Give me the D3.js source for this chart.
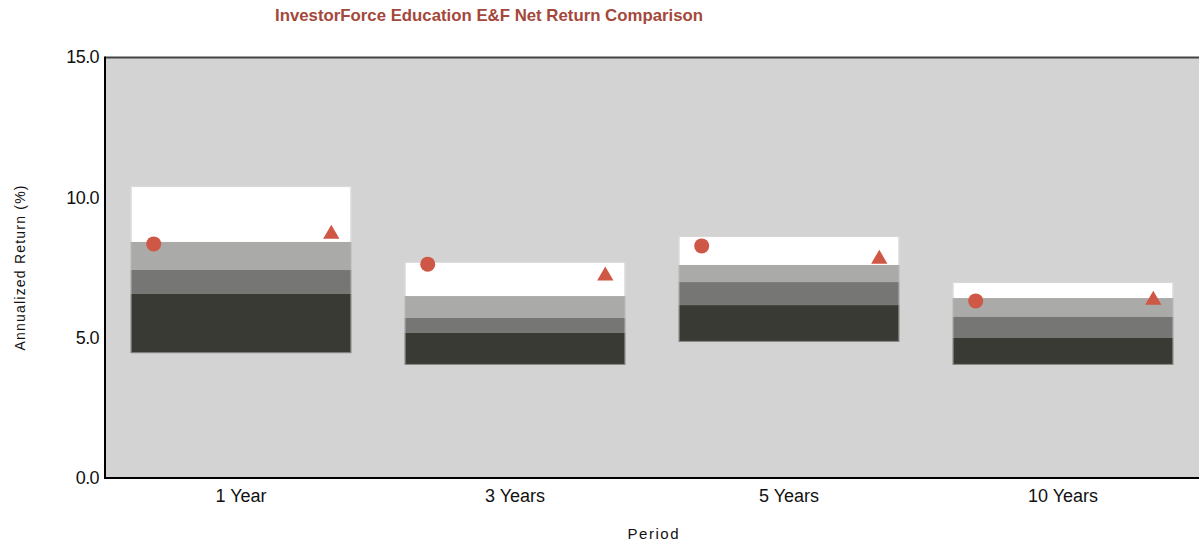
<!DOCTYPE html>
<html>
<head>
<meta charset="utf-8">
<script src="https://cdn.jsdelivr.net/npm/d3@7"></script>
<style>
  body { margin: 0; background: #fff; }
  svg { display: block; font-family: "Liberation Sans", Arial, sans-serif; }
</style>
</head>
<body>
<div id="chart"></div>
<script>
var periods = ["1 Year", "3 Years", "5 Years", "10 Years"];
// percentile band edges: 5th, 25th, median, 75th, 95th
var p95 = [10.40, 7.70, 8.62, 6.98];
var p75 = [8.41, 6.48, 7.59, 6.41];
var p50 = [7.41, 5.70, 6.98, 5.74];
var p25 = [6.56, 5.17, 6.16, 4.99];
var p5  = [4.45, 4.03, 4.85, 4.03];
var fundReturn = [8.34, 7.62, 8.27, 6.31];   // circle
var indexReturn = [8.69, 7.20, 7.80, 6.34];  // triangle
var yTicks = [0, 5, 10, 15];

var width = 1199, height = 543;

var svg = d3.select("#chart").append("svg")
  .attr("width", width)
  .attr("height", height);

var x = d3.scaleBand()
  .domain(periods)
  .range([104, 1200])
  .paddingInner(0.195)
  .paddingOuter(0.0975);

var y = d3.scaleLinear()
  .domain([0, 15])
  .range([478, 57]);

// plot background
svg.append("rect")
  .attr("x", 105).attr("y", y(15))
  .attr("width", 1200 - 105).attr("height", y(0) - y(15))
  .attr("fill", "#d3d3d3");

var bands = [
  {lo: p75, hi: p95, color: "#ffffff"},
  {lo: p50, hi: p75, color: "#aaaaa8"},
  {lo: p25, hi: p50, color: "#767674"},
  {lo: p5,  hi: p25, color: "#3a3a34"}
];

bands.forEach(function(b) {
  svg.append("g").selectAll("rect")
    .data(periods)
    .enter()
    .append("rect")
    .attr("x", function(d) { return x(d); })
    .attr("width", x.bandwidth())
    .attr("y", function(d, i) { return y(b.hi[i]); })
    .attr("height", function(d, i) { return y(b.lo[i]) - y(b.hi[i]); })
    .attr("fill", b.color);
});

// faint outline round each box
svg.append("g").selectAll("rect")
  .data(periods)
  .enter()
  .append("rect")
  .attr("x", function(d) { return x(d) + 0.5; })
  .attr("width", x.bandwidth() - 1)
  .attr("y", function(d, i) { return y(p95[i]) + 0.5; })
  .attr("height", function(d, i) { return y(p5[i]) - y(p95[i]) - 1; })
  .attr("fill", "none")
  .attr("stroke", "#bdbdbd")
  .attr("stroke-width", 1)
  .attr("stroke-opacity", 0.6);

var markerColor = "#cf5745";

svg.append("g").selectAll("circle")
  .data(periods)
  .enter()
  .append("circle")
  .attr("cx", function(d) { return x(d) + 23; })
  .attr("cy", function(d, i) { return y(fundReturn[i]); })
  .attr("r", 7.5)
  .attr("fill", markerColor);

var tri = d3.symbol().type(d3.symbolTriangle).size(115);
svg.append("g").selectAll("path")
  .data(periods)
  .enter()
  .append("path")
  .attr("d", tri)
  .attr("transform", function(d, i) {
    return "translate(" + (x(d) + x.bandwidth() - 20) + "," + y(indexReturn[i]) + ")";
  })
  .attr("fill", markerColor);

// frame
svg.append("line")
  .attr("x1", 105).attr("x2", 1200)
  .attr("y1", 57.5).attr("y2", 57.5)
  .attr("stroke", "#444").attr("stroke-width", 2);
svg.append("line")
  .attr("x1", 105).attr("x2", 105)
  .attr("y1", 56.5).attr("y2", 479)
  .attr("stroke", "#000").attr("stroke-width", 2);
svg.append("line")
  .attr("x1", 104).attr("x2", 1200)
  .attr("y1", 478).attr("y2", 478)
  .attr("stroke", "#000").attr("stroke-width", 2);

// y tick labels
svg.append("g").selectAll("text")
  .data(yTicks)
  .enter()
  .append("text")
  .attr("x", 99)
  .attr("y", function(d) { return y(d); })
  .attr("dy", "0.35em")
  .attr("text-anchor", "end")
  .attr("font-size", 18)
  .attr("letter-spacing", -0.6)
  .attr("fill", "#111")
  .text(function(d) { return d3.format(".1f")(d); });

// x category labels
svg.append("g").selectAll("text")
  .data(periods)
  .enter()
  .append("text")
  .attr("x", function(d) { return x(d) + x.bandwidth() / 2; })
  .attr("y", 502)
  .attr("text-anchor", "middle")
  .attr("font-size", 18)
  .attr("fill", "#111")
  .text(function(d) { return d; });

svg.append("text")
  .attr("x", 653).attr("y", 539)
  .attr("text-anchor", "middle")
  .attr("font-size", 15)
  .attr("textLength", 51)
  .attr("lengthAdjust", "spacing")
  .attr("fill", "#111")
  .text("Period");

svg.append("text")
  .attr("transform", "translate(25,268) rotate(-90)")
  .attr("text-anchor", "middle")
  .attr("font-size", 14)
  .attr("textLength", 165)
  .attr("lengthAdjust", "spacing")
  .attr("fill", "#111")
  .text("Annualized Return (%)");

svg.append("text")
  .attr("x", 489).attr("y", 21)
  .attr("text-anchor", "middle")
  .attr("font-family", "'Liberation Sans Narrow', 'Arial Narrow', sans-serif")
  .attr("font-weight", "bold")
  .attr("font-size", 17)
  .attr("textLength", 428)
  .attr("lengthAdjust", "spacingAndGlyphs")
  .attr("fill", "#a3483b")
  .text("InvestorForce Education E&F Net Return Comparison");
</script>
</body>
</html>
